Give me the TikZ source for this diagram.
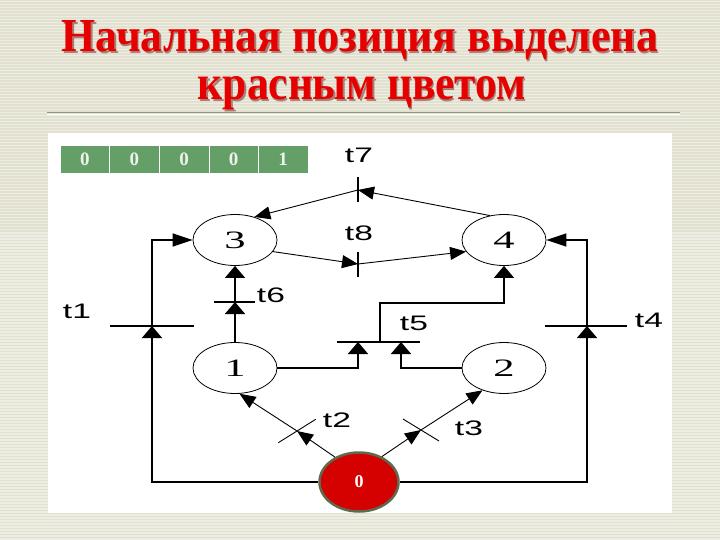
\documentclass[tikz,border=0pt]{standalone}
\usepackage{fontspec}
\setmainfont{Liberation Serif}
\newfontfamily\lblfont{Liberation Sans}
\usetikzlibrary{arrows.meta,shapes.geometric}
\definecolor{bgbeige}{HTML}{E2E0CE}
\definecolor{bgstripe}{HTML}{EEEDE3}
\definecolor{titlered}{HTML}{E60000}
\definecolor{titleshadow}{HTML}{7A2A2A}
\definecolor{rulegray}{HTML}{8C9886}
\definecolor{cellgreen}{HTML}{639F67}
\definecolor{celltext}{HTML}{EEF2EA}
\definecolor{tokenred}{HTML}{D50000}
\definecolor{tokenrim}{HTML}{5E6A4E}
\newcommand{\tlbl}[1]{\scalebox{1.6}[1]{\lblfont #1}}
\newcommand{\plbl}[1]{\scalebox{1.7}[1]{#1}}
\newcommand{\titleA}{Начальная позиция выделена}
\newcommand{\titleB}{красным цветом}
\begin{document}
\begin{tikzpicture}[x=1pt,y=-1pt,
  place/.style={ellipse, draw=black, line width=0.8pt, minimum width=84pt, minimum height=51pt, inner sep=0pt, font=\fontsize{25}{25}\selectfont},
  token/.style={ellipse, draw=tokenrim, line width=2.5pt, fill=tokenred, minimum width=79pt, minimum height=59pt, inner sep=0pt, text=white, font=\bfseries\fontsize{18}{18}\selectfont},
  cell/.style={rectangle, fill=cellgreen, draw=white, line width=0.6pt, minimum width=49.6pt, minimum height=28pt, inner sep=0pt, text=celltext, font=\bfseries\fontsize{19}{19}\selectfont},
  lbl/.style={inner sep=0pt, font=\fontsize{21}{21}\selectfont},
  titletext/.style={inner sep=0pt, anchor=base, font=\bfseries},
  barline/.style={line width=1.6pt},
  ortho/.style={line width=1.6pt},
  diag/.style={line width=0.9pt},
  vtip/.style={-{Triangle[length=12pt,width=20pt]}},
  htip/.style={-{Triangle[length=20pt,width=13pt]}},
  dtip/.style={-{Triangle[length=16pt,width=13pt]}}]
\useasboundingbox (0,0) rectangle (720,540);
% background
\fill[bgbeige] (0,0) rectangle (720,540);
\foreach \yy in {1,4,...,538} \fill[bgstripe] (0,\yy) rectangle (720,\yy+1.5);
% title
\node[titletext, text=titleshadow, opacity=0.55] (ts1) at (361.2,53.2) {\resizebox{596pt}{31pt}{\titleA}};
\node[titletext, text=titlered] (tt1) at (360,52) {\resizebox{596pt}{31pt}{\titleA}};
\node[titletext, text=titleshadow, opacity=0.55] (ts2) at (363.2,101.2) {\resizebox{328pt}{23pt}{\titleB}};
\node[titletext, text=titlered] (tt2) at (362,100) {\resizebox{328pt}{23pt}{\titleB}};
\draw[rulegray, line width=1pt] (47,113) -- (680,113);
\draw[white, line width=0.8pt] (47,114.5) -- (680,114.5);
% white panel
\fill[white] (48,133) rectangle (672,513);
% marking table
\foreach \i/\v in {0/0,1/0,2/0,3/0,4/1}
  \node[cell] (c\i) at (84.8+49.6*\i,159) {\v};
% places
\node[place] (p3) at (235,240) {\plbl{3}};
\node[place] (p4) at (504,240) {\plbl{4}};
\node[place] (p1) at (235,368) {\plbl{1}};
\node[place] (p2) at (504,368) {\plbl{2}};
\node[token] (p0) at (359,482) {0};
% transitions
\coordinate (t1) at (152,326);
\coordinate (t4) at (587,326);
\coordinate (t6) at (235,302);
\coordinate (t5a) at (358,342);
\coordinate (t5b) at (401,342);
\coordinate (t5c) at (380,342);
\coordinate (t7) at (358,190);
\coordinate (t8) at (358,264);
\coordinate (t2) at (297,431);
\coordinate (t3) at (421,430);
\draw[barline] (t1) ++(-42,0) -- ++(84,0);
\draw[barline] (t4) ++(-42,0) -- ++(82,0);
\draw[barline] (t6) ++(-21,0) -- ++(41,0);
\draw[barline] (t5a) ++(-21,0) -- ++(83,0);
\draw[barline] (t7) ++(0,-13) -- ++(0,25);
\draw[barline] (t8) ++(0,-12) -- ++(0,25);
\draw[diag] (t2) ++(-18.7,11.7) -- ++(37.4,-23.4);
\draw[diag] (t3) ++(-18,-11) -- ++(36,22);
% arcs
\draw[ortho,vtip] (p0.west) -| (t1);
\draw[ortho,htip] (t1) |- (p3.west);
\draw[ortho,vtip] (p0.east) -| (t4);
\draw[ortho,htip] (t4) |- (p4.east);
\draw[ortho,vtip] (p1.north) -- (t6);
\draw[ortho,vtip] (t6) -- (p3.south);
\draw[ortho,vtip] (p1.east) -| (t5a);
\draw[ortho,vtip] (p2.west) -| (t5b);
\draw[ortho,vtip] (t5c) -- ++(0,-39) -| (p4.south);
\draw[diag,dtip] (p4.120) -- (t7);
\draw[diag,dtip] (t7) -- (p3.50);
\draw[diag,dtip] (p3.-17) -- (t8);
\draw[diag,dtip] (t8) -- (p4.197);
\draw[diag,dtip] (p0.134) -- (t2);
\draw[diag,dtip] (t2) -- (p1.-80);
\draw[diag,dtip] (p0.48) -- (t3);
\draw[diag,dtip] (t3) -- (p2.-134);
% labels
\node[lbl] (l1) at (77,311) {\tlbl{t1}};
\node[lbl] (l4) at (649,320) {\tlbl{t4}};
\node[lbl] (l6) at (271,295) {\tlbl{t6}};
\node[lbl] (l5) at (414,323) {\tlbl{t5}};
\node[lbl] (l7) at (359,155) {\tlbl{t7}};
\node[lbl] (l8) at (359,233) {\tlbl{t8}};
\node[lbl] (l2) at (337,420) {\tlbl{t2}};
\node[lbl] (l3) at (469,428) {\tlbl{t3}};
\end{tikzpicture}
\end{document}
